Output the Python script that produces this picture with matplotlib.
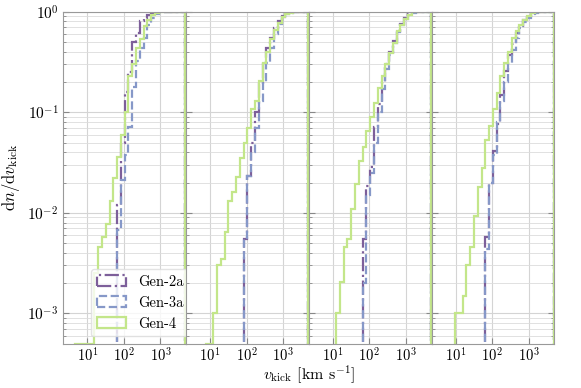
import numpy as np
import matplotlib
matplotlib.use("Agg")
import matplotlib.pyplot as plt
from matplotlib.patches import Patch

plt.rcParams['font.family'] = 'serif'
plt.rcParams['font.serif'] = ['cmr10']
plt.rcParams['mathtext.fontset'] = 'cm'
plt.rcParams['axes.formatter.use_mathtext'] = True
plt.rcParams['axes.unicode_minus'] = False

# shared log-spaced bins (km/s)
bins = np.logspace(0.36, 3.68, 33)

labels = ['Gen-2a', 'Gen-3a', 'Gen-4']
colors = ['#7d5f9a', '#8698c8', '#c3e68a']
styles = ['-.', '--', '-']

# cumulative fractions; first_bin = index of first non-empty bin,
# bins after the listed values are at 1
gen2a_first = [14, 15, 14, 14]
gen2a_p1 = [0.012, 0.05, 0.16, 0.25, 0.50, 0.62, 0.80, 0.86, 0.93, 0.97]
gen2a_p2 = [0.0055, 0.0234, 0.05, 0.10, 0.19, 0.30, 0.44, 0.55, 0.69, 0.80, 0.90, 0.96]
gen2a_p3 = [0.0055, 0.0187, 0.0285, 0.071, 0.12, 0.20, 0.30, 0.40, 0.51, 0.64, 0.75, 0.86, 0.94, 0.99]
gen2a_p4 = [0.0057, 0.02, 0.041, 0.076, 0.15, 0.257, 0.37, 0.48, 0.61, 0.72, 0.82, 0.90, 0.96]

gen3a_first = [14, 15, 14, 14]
gen3a_p1 = [0.0067, 0.021, 0.038, 0.071, 0.18, 0.32, 0.44, 0.55, 0.74, 0.87, 0.95]
gen3a_p2 = [0.0055, 0.0234, 0.040, 0.07, 0.13, 0.20, 0.31, 0.44, 0.60, 0.75, 0.88, 0.95, 0.98]
gen3a_p3 = [0.002, 0.015, 0.025, 0.05, 0.10, 0.17, 0.27, 0.37, 0.49, 0.63, 0.74, 0.85, 0.93, 0.98]
gen3a_p4 = [0.0044, 0.02, 0.038, 0.08, 0.13, 0.20, 0.31, 0.42, 0.55, 0.68, 0.78, 0.87, 0.94, 0.98]

gen4_first = [3, 5, 7, 6]
gen4_p1 = [5e-4, 5e-4, 5e-4, 5e-4, 5e-4, 0.0025, 0.0046, 0.0057, 0.0078, 0.013, 0.022, 0.036,
           0.06, 0.10, 0.23, 0.30, 0.44, 0.53, 0.72, 0.83, 0.93, 0.97, 0.99]
gen4_p2 = [5e-4, 5e-4, 0.001, 0.003, 0.0035, 0.0064, 0.0132, 0.016, 0.0225, 0.035, 0.050, 0.070,
           0.107, 0.13, 0.204, 0.31, 0.40, 0.53, 0.66, 0.77, 0.88, 0.95, 0.98]
gen4_p3 = [0.001, 0.00206, 0.0046, 0.0055, 0.011, 0.0194, 0.033, 0.045, 0.065, 0.089, 0.125,
           0.176, 0.229, 0.30, 0.39, 0.49, 0.64, 0.74, 0.85, 0.93, 0.99]
gen4_p4 = [0.001, 0.001, 0.0015, 0.003, 0.0046, 0.0094, 0.018, 0.028, 0.053, 0.073, 0.107,
           0.157, 0.229, 0.31, 0.40, 0.55, 0.64, 0.74, 0.83, 0.90, 0.97]

series = [
    (gen2a_first, [gen2a_p1, gen2a_p2, gen2a_p3, gen2a_p4]),
    (gen3a_first, [gen3a_p1, gen3a_p2, gen3a_p3, gen3a_p4]),
    (gen4_first, [gen4_p1, gen4_p2, gen4_p3, gen4_p4]),
]


def cumulative(first, vals):
    out = np.ones(len(bins) - 1)
    out[:first] = 0.0
    out[first:first + len(vals)] = vals
    return out


fig, axes = plt.subplots(1, 4, sharey=True, figsize=(5.81, 3.88), dpi=100)
fig.subplots_adjust(left=0.109, right=0.954, top=0.970, bottom=0.114, wspace=0)

lw = 1.6
for p, ax in enumerate(axes):
    ax.set_xscale('log')
    ax.set_yscale('log')
    for (first, panels), c, ls in zip(series, colors, styles):
        ax.stairs(cumulative(first[p], panels[p]), bins, baseline=0, color=c,
                  linestyle=ls, linewidth=lw)
    ax.set_xlim(10**0.34, bins[-1] * 1.05)
    ax.set_ylim(5e-4, 1)
    ax.set_xticks([10, 100, 1000])
    ax.xaxis.set_minor_locator(matplotlib.ticker.NullLocator())
    ax.grid(True, which='major', color='#d4d4d4', linewidth=0.8)
    ax.grid(True, which='minor', axis='y', color='#dcdcdc', linewidth=0.6)
    ax.set_axisbelow(True)
    ax.tick_params(which='both', direction='in', right=True, top=False,
                   color='#888888', labelsize=11)
    ax.tick_params(axis='x', pad=2, labelsize=10.5)
    ax.tick_params(which='major', length=4)
    ax.tick_params(which='minor', length=2.5)
    for s in ax.spines.values():
        s.set_color('#999999')
        s.set_linewidth(0.8)
    if p > 0:
        ax.tick_params(labelleft=False)

handles = [Patch(facecolor='none', edgecolor=c, linestyle=ls, linewidth=lw, label=lab)
           for lab, c, ls in zip(labels, colors, styles)]
axes[0].set_ylabel(r'$\mathrm{d}n/\mathrm{d}v_\mathrm{kick}$', fontsize=12)
axes[0].legend(handles=handles, loc='lower left', bbox_to_anchor=(0.17, 0.0), fontsize=10.5,
               framealpha=0.8, edgecolor='#dddddd', fancybox=True)
fig.text(0.532, 0.004, r'$v_\mathrm{kick}$ [km s$^{-1}$]', ha='center', va='bottom', fontsize=11.5)

fig.savefig('out.png', dpi=100)
